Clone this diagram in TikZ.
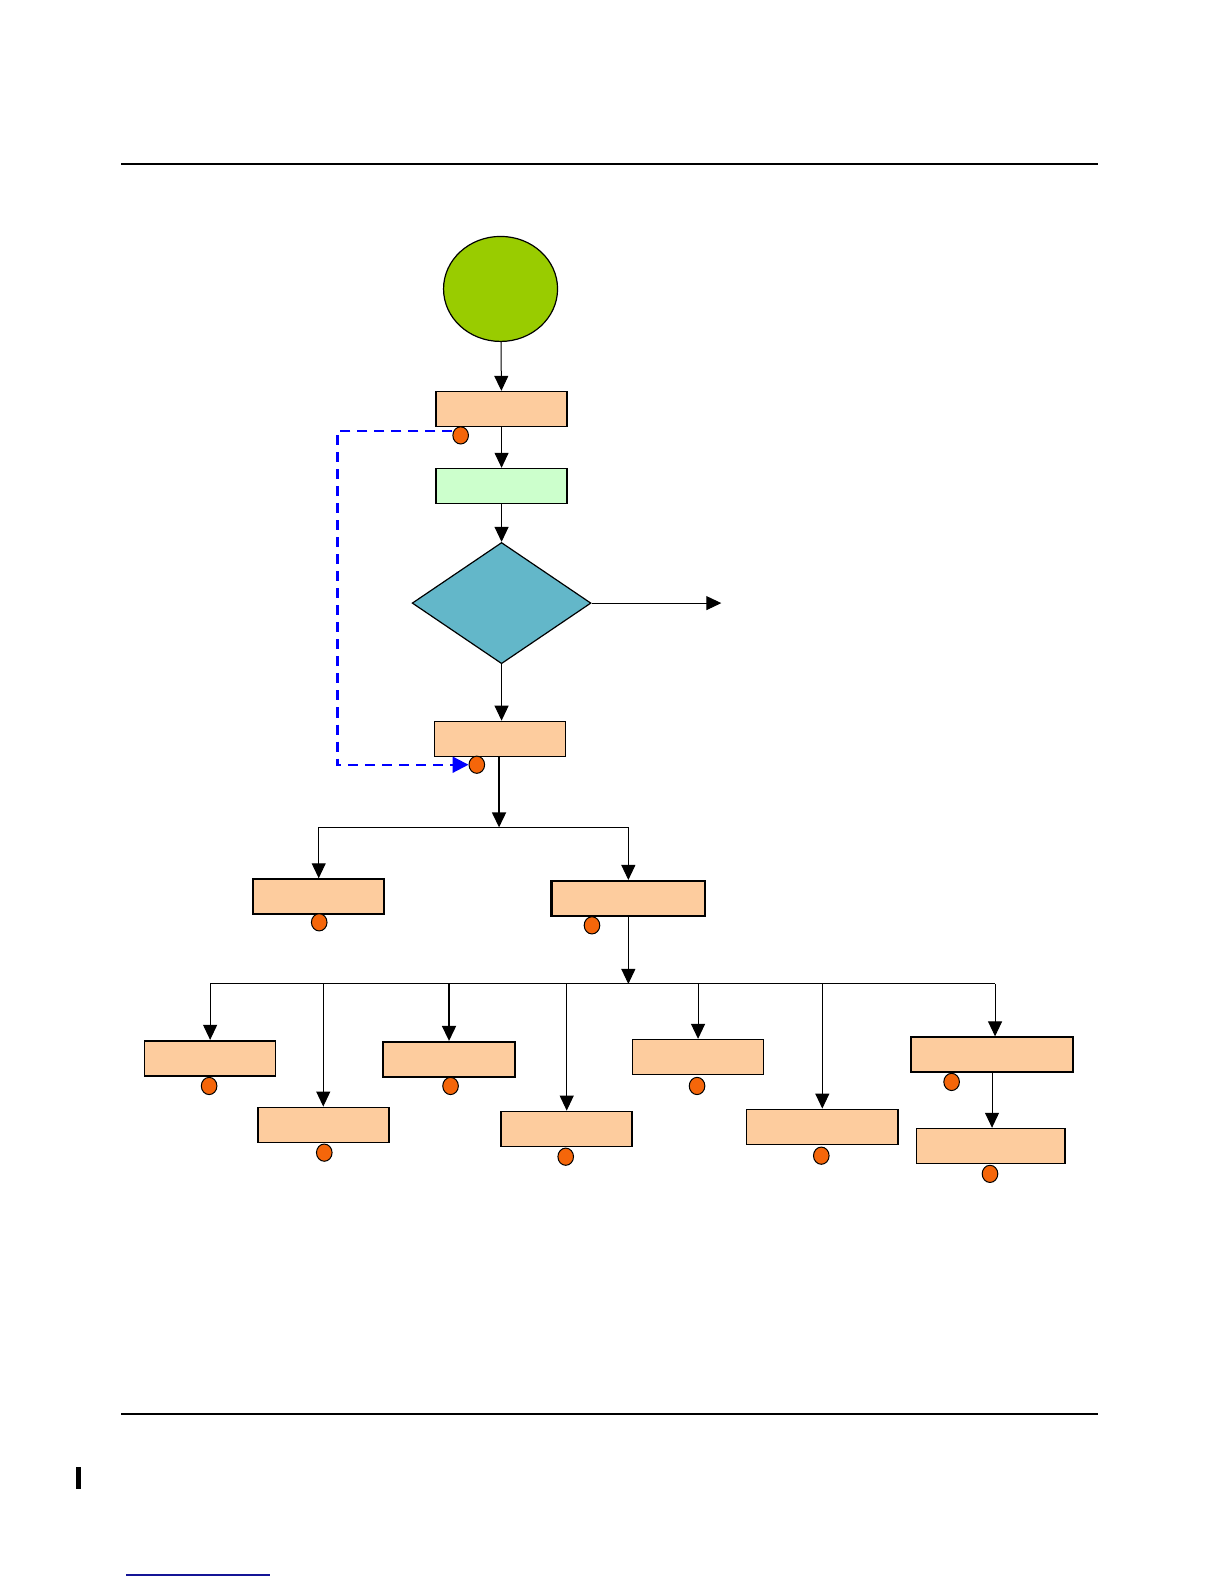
\documentclass[tikz,border=0pt]{standalone}
\usetikzlibrary{arrows.meta,shapes.geometric}
\definecolor{peach}{RGB}{253,204,158}
\definecolor{mint}{RGB}{204,255,204}
\definecolor{teal}{RGB}{99,183,201}
\definecolor{lime}{RGB}{153,204,0}
\definecolor{dotor}{RGB}{245,102,10}
\definecolor{linkblue}{RGB}{20,20,150}
\begin{document}
\begin{tikzpicture}[x=0.505pt,y=-0.505pt,
  tip/.style={-{Triangle[length=7.5pt,width=7pt]}},
  conn/.style={tip,line width=0.5pt},
  box/.style={draw,line width=0.8pt,fill=peach,inner sep=0pt,minimum height=17.5pt,minimum width=65.5pt},
  dot/.style={draw,line width=0.5pt,fill=dotor,ellipse,inner sep=0pt,minimum width=7.8pt,minimum height=8.6pt},
  rule/.style={line width=1pt}]
\useasboundingbox (0,0) rectangle (1212,1568);
% page rules
\draw[rule] (120,162) -- (1087,162);
\draw[rule] (120,1400) -- (1087,1400);
\fill[black] (75.5,1452) rectangle (80,1474);
\draw[linkblue,line width=0.8pt] (125,1559) -- (267,1559);
% nodes
\node[draw,line width=0.6pt,fill=lime,ellipse,inner sep=0pt,minimum width=57pt,minimum height=52.5pt] (st) at (495.5,286) {};
\node[box] (b1) at (496.5,405) {};
\node[box,fill=mint,line width=0.6pt] (b2) at (496.5,481) {};
\node[draw,line width=0.6pt,fill=teal,diamond,inner sep=0pt,minimum width=89.4pt,minimum height=60.6pt] (dec) at (496.5,597) {};
\node[box] (b3) at (495,731.5) {};
\node[box] (b4) at (315.5,887.5) {};
\node[box,minimum width=76.8pt,line width=1.1pt] (b5) at (622,889.5) {};
\node[box] (ca) at (208,1047.5) {};
\node[box] (cb) at (320,1113.5) {};
\node[box,minimum width=66pt] (cc) at (444.5,1048.5) {};
\node[box] (cd) at (561,1117.5) {};
\node[box] (ce) at (691,1046.5) {};
\node[box,minimum width=75.8pt] (cf) at (814,1115.5) {};
\node[box,minimum width=80.8pt] (cg) at (982,1044) {};
\node[box,minimum width=74.2pt] (ch) at (980.5,1134.5) {};
% dots
\node[dot] (d1) at (456,431) {};
\node[dot] (d3) at (472,757) {};
\node[dot] (d4) at (316,913) {};
\node[dot] (d5) at (586,916) {};
\node[dot] (da) at (207,1075) {};
\node[dot] (db) at (321,1141) {};
\node[dot] (dc) at (446,1075) {};
\node[dot] (dd) at (560,1145) {};
\node[dot] (de) at (690,1075) {};
\node[dot] (df) at (813,1144) {};
\node[dot] (dg) at (942,1071) {};
\node[dot] (dh) at (980,1162) {};
% coordinates
\coordinate (out) at (714,597);
\coordinate (lp1) at (334,427);
\coordinate (lp2) at (334,757);
\coordinate (j1) at (494,819);
\coordinate (j2) at (623,974);
\coordinate (jr) at (985,974);
% connectors
\draw[conn] (st) -- (b1);
\draw[conn] (b1) -- (b2);
\draw[conn] (b2) -- (dec);
\draw[conn] (dec.east) -- (out);
\draw[conn] (dec.south) -- (dec.south |- b3.north);
\draw[blue,line width=1.1pt,dash pattern=on 5pt off 3.5pt,-{Triangle[length=8pt,width=8pt]}]
  (d1.west |- lp1) -- (lp1) -- (lp2) -- (d3.west);
\draw[conn,line width=0.8pt] (b3.south -| j1) -- (j1);
\draw[line width=0.5pt] (j1 -| b4) -- (j1 -| b5);
\draw[conn] (j1 -| b4) -- (b4.north);
\draw[conn] (j1 -| b5) -- (b5.north);
\draw[conn] (b5.south) -- (b5.south |- j2);
\draw[line width=0.5pt] (j2 -| ca) -- (jr);
\draw[conn] (j2 -| ca) -- (ca.north);
\draw[conn] (j2 -| cb) -- (cb.north);
\draw[conn,line width=0.8pt] (j2 -| cc) -- (cc.north);
\draw[conn] (j2 -| cd) -- (cd.north);
\draw[conn] (j2 -| ce) -- (ce.north);
\draw[conn] (j2 -| cf) -- (cf.north);
\draw[conn] (jr) -- (jr |- cg.north);
\draw[conn] (cg.south) -- (cg.south |- ch.north);
\end{tikzpicture}
\end{document}
